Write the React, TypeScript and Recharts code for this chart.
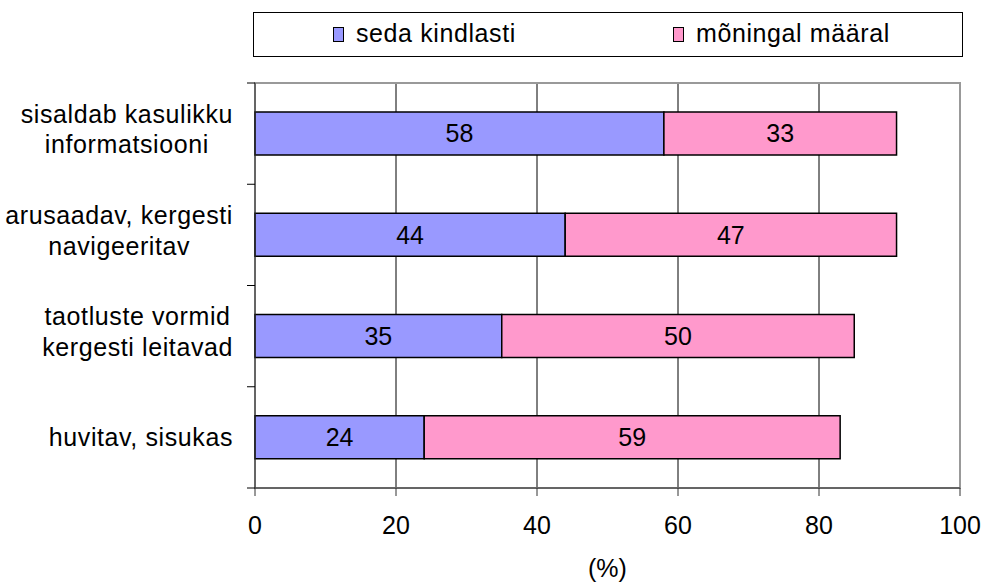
import {
  BarChart,
  Bar,
  XAxis,
  YAxis,
  CartesianGrid,
  Legend,
  LabelList,
  ReferenceArea,
} from "recharts";

// Kategooriad (reavahetus \n = kaks rida sildis), ülevalt alla
const CATEGORIES = [
  "sisaldab kasulikku\ninformatsiooni",
  "arusaadav, kergesti\nnavigeeritav",
  "taotluste vormid\nkergesti leitavad",
  "huvitav, sisukas",
];
const SEDA_KINDLASTI = [58, 44, 35, 24];
const MONINGAL_MAARAL = [33, 47, 50, 59];
const X_TICKS = [0, 20, 40, 60, 80, 100];

const SERIES = [
  { dataKey: "kindlasti", label: "seda kindlasti", fill: "#9999FF" },
  { dataKey: "moningal", label: "mõningal määral", fill: "#FF99CC" },
];

const FONT = "Arial, 'Liberation Sans', sans-serif";
const FS = 25;
const LS = 0.6; // veidi laiem tekst nagu originaalis

const W = 986;
const H = 583;
const PLOT_TOP = 83;
const PLOT_LEFT = 255;
const PLOT_RIGHT = 960;
const PLOT_BOTTOM = 488;
const BAND = (PLOT_BOTTOM - PLOT_TOP) / CATEGORIES.length;

const data = CATEGORIES.map((name, i) => ({
  name,
  kindlasti: SEDA_KINDLASTI[i],
  moningal: MONINGAL_MAARAL[i],
}));

let ctx: CanvasRenderingContext2D | null = null;
function textWidth(s: string) {
  if (!ctx) ctx = document.createElement("canvas").getContext("2d");
  if (!ctx) return s.length * 12;
  ctx.font = `${FS}px ${FONT}`;
  return ctx.measureText(s).width + s.length * LS;
}

// sildiplokk joondub paremale, read plokis keskel; tikk-kriipsud ribade piiril
function CategoryTick(props: any) {
  const { y, payload, index } = props;
  const lines = String(payload.value).split("\n");
  const widest = Math.max(...lines.map(textWidth));
  const cx = 233 - widest / 2;
  const lh = 30.6;
  const base = lines.length === 1 ? 9 : 4.4;
  return (
    <g>
      <line x1={247} x2={PLOT_LEFT} y1={y - BAND / 2} y2={y - BAND / 2} stroke="#000" />
      {index === CATEGORIES.length - 1 && (
        <line x1={247} x2={PLOT_LEFT} y1={y + BAND / 2} y2={y + BAND / 2} stroke="#000" />
      )}
      <text textAnchor="middle" fontFamily={FONT} fontSize={FS} letterSpacing={LS} fill="#000">
        {lines.map((l, i) => (
          <tspan key={i} x={cx} y={y + base + (i - (lines.length - 1) / 2) * lh}>
            {l}
          </tspan>
        ))}
      </text>
    </g>
  );
}

function LegendBox() {
  return (
    <div
      style={{
        width: 708,
        height: 43,
        border: "1px solid #000",
        background: "#fff",
        fontFamily: FONT,
        fontSize: FS,
        letterSpacing: LS,
        color: "#000",
      }}
    >
      {SERIES.map((s, i) => (
        <div
          key={s.dataKey}
          style={{
            position: "absolute",
            left: i === 0 ? 80 : 420,
            top: 7,
            display: "flex",
            alignItems: "center",
            whiteSpace: "nowrap",
          }}
        >
          <span
            style={{
              display: "inline-block",
              boxSizing: "border-box",
              width: 11,
              height: 15,
              background: s.fill,
              border: "1.5px solid #000",
              marginRight: 12,
              marginTop: 1,
            }}
          />
          {s.label}
        </div>
      ))}
    </div>
  );
}

export default function App() {
  return (
    <div style={{ position: "absolute", left: 0, top: 0, width: W, height: H, background: "#fff" }}>
      <BarChart
        width={W}
        height={H}
        data={data}
        layout="vertical"
        barSize={43}
        margin={{ top: PLOT_TOP, right: W - PLOT_RIGHT, bottom: 0, left: 0 }}
      >
        <CartesianGrid horizontal={false} stroke="#000" />
        <ReferenceArea x1={0} x2={100} stroke="#999" strokeWidth={2} fill="none" fillOpacity={0} />
        <XAxis
          type="number"
          domain={[0, 100]}
          ticks={X_TICKS}
          height={H - PLOT_BOTTOM}
          tickSize={8}
          tickMargin={20}
          stroke="#333"
          tick={{ fill: "#000", fontSize: FS, fontFamily: FONT }}
          label={{
            value: "(%)",
            position: "insideBottom",
            offset: 6,
            fill: "#000",
            fontSize: FS,
            fontFamily: FONT,
          }}
        />
        <YAxis
          type="category"
          dataKey="name"
          width={PLOT_LEFT}
          stroke="#333"
          tickLine={false}
          tick={<CategoryTick />}
          interval={0}
        />
        <Legend
          layout="horizontal"
          verticalAlign="middle"
          align="center"
          content={<LegendBox />}
          wrapperStyle={{ position: "absolute", top: 12, left: 253, width: 710, height: 45 }}
        />
        {SERIES.map((s) => (
          <Bar
            key={s.dataKey}
            dataKey={s.dataKey}
            name={s.label}
            stackId="a"
            fill={s.fill}
            stroke="#000"
            strokeWidth={1.5}
            isAnimationActive={false}
          >
            <LabelList dataKey={s.dataKey} position="center" fill="#000" fontSize={FS} fontFamily={FONT} />
          </Bar>
        ))}
      </BarChart>
    </div>
  );
}
